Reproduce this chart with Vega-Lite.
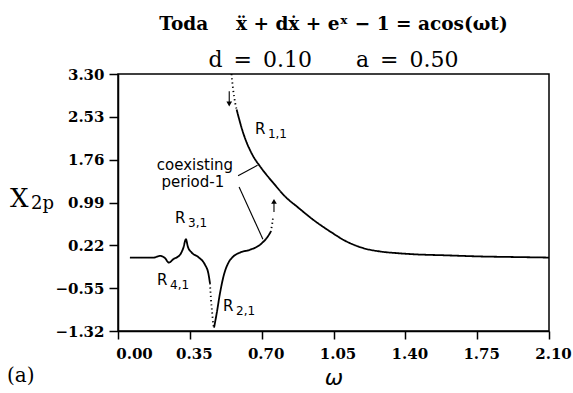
{
  "$schema": "https://vega.github.io/schema/vega-lite/v6.json",
  "width": 431,
  "height": 257,
  "autosize": {"type": "none"},
  "padding": {"left": 118, "top": 74, "right": 24, "bottom": 62},
  "background": "white",
  "config": {
    "view": {"stroke": "black", "strokeWidth": 1.5},
    "axis": {
      "domainColor": "black", "domainWidth": 1.5,
      "tickColor": "black", "tickWidth": 1.5, "tickSize": 8,
      "labelFont": "DejaVu Serif", "labelFontWeight": "bold", "labelFontSize": 15, "labelColor": "black",
      "grid": false
    }
  },
  "title": {
    "text": "Toda\u2003\u2002x\u0308 + d\u1e8b + e\u02e3 \u2212 1 = acos(\u03c9t)",
    "subtitle": "d\u2002=\u20020.10\u2003\u2003a\u2002=\u20020.50",
    "font": "DejaVu Serif", "fontSize": 18.5, "fontWeight": "bold", "color": "black",
    "subtitleFont": "DejaVu Serif", "subtitleFontSize": 22, "subtitleFontWeight": "normal", "subtitleColor": "black",
    "subtitlePadding": 17, "offset": -4, "anchor": "middle"
  },
  "datasets": {
    "curve": [
      {"i": 1, "seg": "A", "kind": "solid", "w": 0.058, "v": 0.00},
      {"i": 2, "seg": "A", "kind": "solid", "w": 0.120, "v": 0.00},
      {"i": 3, "seg": "A", "kind": "solid", "w": 0.172, "v": 0.00},
      {"i": 4, "seg": "A", "kind": "solid", "w": 0.205, "v": 0.03},
      {"i": 5, "seg": "A", "kind": "solid", "w": 0.229, "v": -0.01},
      {"i": 6, "seg": "A", "kind": "solid", "w": 0.248, "v": -0.09},
      {"i": 7, "seg": "A", "kind": "solid", "w": 0.269, "v": -0.03},
      {"i": 8, "seg": "A", "kind": "solid", "w": 0.302, "v": 0.05},
      {"i": 9, "seg": "A", "kind": "solid", "w": 0.318, "v": 0.17},
      {"i": 10, "seg": "A", "kind": "solid", "w": 0.331, "v": 0.33},
      {"i": 11, "seg": "A", "kind": "solid", "w": 0.340, "v": 0.20},
      {"i": 12, "seg": "A", "kind": "solid", "w": 0.359, "v": 0.09},
      {"i": 13, "seg": "A", "kind": "solid", "w": 0.391, "v": 0.01},
      {"i": 14, "seg": "A", "kind": "solid", "w": 0.424, "v": -0.13},
      {"i": 15, "seg": "A", "kind": "solid", "w": 0.440, "v": -0.28},
      {"i": 16, "seg": "A", "kind": "solid", "w": 0.448, "v": -0.46},
      {"i": 17, "seg": "B", "kind": "dotted", "w": 0.448, "v": -0.46},
      {"i": 18, "seg": "B", "kind": "dotted", "w": 0.453, "v": -0.75},
      {"i": 19, "seg": "B", "kind": "dotted", "w": 0.459, "v": -1.00},
      {"i": 20, "seg": "B", "kind": "dotted", "w": 0.464, "v": -1.20},
      {"i": 21, "seg": "B", "kind": "dotted", "w": 0.468, "v": -1.26},
      {"i": 22, "seg": "C", "kind": "solid", "w": 0.468, "v": -1.26},
      {"i": 23, "seg": "C", "kind": "solid", "w": 0.481, "v": -1.00},
      {"i": 24, "seg": "C", "kind": "solid", "w": 0.497, "v": -0.64},
      {"i": 25, "seg": "C", "kind": "solid", "w": 0.516, "v": -0.31},
      {"i": 26, "seg": "C", "kind": "solid", "w": 0.537, "v": -0.10},
      {"i": 27, "seg": "C", "kind": "solid", "w": 0.562, "v": 0.02},
      {"i": 28, "seg": "C", "kind": "solid", "w": 0.594, "v": 0.09},
      {"i": 29, "seg": "C", "kind": "solid", "w": 0.643, "v": 0.14},
      {"i": 30, "seg": "C", "kind": "solid", "w": 0.692, "v": 0.23},
      {"i": 31, "seg": "C", "kind": "solid", "w": 0.724, "v": 0.35},
      {"i": 32, "seg": "C", "kind": "solid", "w": 0.744, "v": 0.46},
      {"i": 33, "seg": "D", "kind": "dotted", "w": 0.744, "v": 0.46},
      {"i": 34, "seg": "D", "kind": "dotted", "w": 0.751, "v": 0.60},
      {"i": 35, "seg": "D", "kind": "dotted", "w": 0.757, "v": 0.76},
      {"i": 36, "seg": "E", "kind": "dotted", "w": 0.553, "v": 3.30},
      {"i": 37, "seg": "E", "kind": "dotted", "w": 0.561, "v": 3.02},
      {"i": 38, "seg": "E", "kind": "dotted", "w": 0.571, "v": 2.78},
      {"i": 39, "seg": "E", "kind": "dotted", "w": 0.578, "v": 2.66},
      {"i": 40, "seg": "F", "kind": "solid", "w": 0.578, "v": 2.66},
      {"i": 41, "seg": "F", "kind": "solid", "w": 0.610, "v": 2.24},
      {"i": 42, "seg": "F", "kind": "solid", "w": 0.659, "v": 1.82},
      {"i": 43, "seg": "F", "kind": "solid", "w": 0.692, "v": 1.64},
      {"i": 44, "seg": "F", "kind": "solid", "w": 0.757, "v": 1.34},
      {"i": 45, "seg": "F", "kind": "solid", "w": 0.822, "v": 1.07},
      {"i": 46, "seg": "F", "kind": "solid", "w": 0.871, "v": 0.92},
      {"i": 47, "seg": "F", "kind": "solid", "w": 0.951, "v": 0.68},
      {"i": 48, "seg": "F", "kind": "solid", "w": 1.033, "v": 0.47},
      {"i": 49, "seg": "F", "kind": "solid", "w": 1.113, "v": 0.29},
      {"i": 50, "seg": "F", "kind": "solid", "w": 1.195, "v": 0.17},
      {"i": 51, "seg": "F", "kind": "solid", "w": 1.276, "v": 0.11},
      {"i": 52, "seg": "F", "kind": "solid", "w": 1.358, "v": 0.08},
      {"i": 53, "seg": "F", "kind": "solid", "w": 1.439, "v": 0.06},
      {"i": 54, "seg": "F", "kind": "solid", "w": 1.601, "v": 0.04},
      {"i": 55, "seg": "F", "kind": "solid", "w": 1.764, "v": 0.02},
      {"i": 56, "seg": "F", "kind": "solid", "w": 1.926, "v": 0.01},
      {"i": 57, "seg": "F", "kind": "solid", "w": 2.100, "v": 0.00}
    ],
    "rules": [
      {"w": 0.585, "v": 1.47, "w2": 0.680, "v2": 1.66},
      {"w": 0.590, "v": 1.27, "w2": 0.706, "v2": 0.33},
      {"w": 0.542, "v": 2.99, "w2": 0.542, "v2": 2.78},
      {"w": 0.760, "v": 0.82, "w2": 0.760, "v2": 1.00}
    ],
    "heads": [
      {"w": 0.542, "v": 2.76, "shape": "triangle-down"},
      {"w": 0.760, "v": 1.01, "shape": "triangle-up"}
    ],
    "rlabels": [
      {"w": 0.667, "v": 2.32, "main": "R", "sub": "1,1"},
      {"w": 0.278, "v": 0.715, "main": "R", "sub": "3,1"},
      {"w": 0.190, "v": -0.40, "main": "R", "sub": "4,1"},
      {"w": 0.512, "v": -0.87, "main": "R", "sub": "2,1"}
    ],
    "notes": [
      {"w": 0.375, "v": 1.67, "text": "coexisting"},
      {"w": 0.365, "v": 1.35, "text": "period-1"}
    ],
    "outer": [
      {"w": -0.526, "v": 0.913, "main": "X", "sub": "2p"}
    ],
    "panel": [
      {"w": -0.541, "v": -2.13, "text": "(a)"}
    ]
  },
  "encoding": {
    "x": {
      "field": "w", "type": "quantitative",
      "scale": {"domain": [0, 2.1], "nice": false, "zero": false},
      "axis": {
        "values": [0, 0.35, 0.7, 1.05, 1.4, 1.75, 2.1], "format": ".2f",
        "labelFlush": false, "labelPadding": 7,
        "labelOffset": {"condition": {"test": "datum.value == 0", "value": 16}, "value": 4},
        "title": "\u03c9", "titleFont": "DejaVu Sans", "titleFontStyle": "italic", "titleFontWeight": "normal",
        "titleFontSize": 22, "titleColor": "black", "titlePadding": 6
      }
    },
    "y": {
      "field": "v", "type": "quantitative",
      "scale": {"domain": [-1.32, 3.3], "nice": false, "zero": false},
      "axis": {
        "values": [-1.32, -0.55, 0.22, 0.99, 1.76, 2.53, 3.3], "format": ".2f",
        "tickSize": 9, "labelPadding": 5, "title": null
      }
    }
  },
  "layer": [
    {
      "data": {"name": "curve"},
      "mark": {"type": "line", "color": "black", "strokeWidth": 1.8, "interpolate": "monotone"},
      "encoding": {
        "detail": {"field": "seg"},
        "order": {"field": "i", "type": "quantitative"},
        "strokeDash": {"field": "kind", "type": "nominal", "scale": {"domain": ["solid", "dotted"], "range": [[1, 0], [1.2, 3]]}, "legend": null}
      }
    },
    {
      "data": {"name": "rules"},
      "mark": {"type": "rule", "color": "black", "strokeWidth": 1.1},
      "encoding": {"x2": {"field": "w2"}, "y2": {"field": "v2"}}
    },
    {
      "data": {"name": "heads"},
      "mark": {"type": "point", "filled": true, "color": "black", "opacity": 1, "size": 32},
      "encoding": {"shape": {"field": "shape", "type": "nominal", "scale": null}}
    },
    {
      "data": {"name": "rlabels"},
      "mark": {"type": "text", "font": "DejaVu Sans", "fontSize": 15, "align": "left", "baseline": "middle", "color": "black"},
      "encoding": {"text": {"field": "main"}}
    },
    {
      "data": {"name": "rlabels"},
      "mark": {"type": "text", "font": "DejaVu Sans", "fontSize": 12, "align": "left", "baseline": "middle", "dx": 13, "dy": 5, "color": "black"},
      "encoding": {"text": {"field": "sub"}}
    },
    {
      "data": {"name": "notes"},
      "mark": {"type": "text", "font": "DejaVu Sans", "fontSize": 15, "align": "center", "baseline": "middle", "color": "black"},
      "encoding": {"text": {"field": "text"}}
    },
    {
      "data": {"name": "outer"},
      "mark": {"type": "text", "font": "DejaVu Serif", "fontSize": 26, "align": "left", "baseline": "alphabetic", "color": "black"},
      "encoding": {"text": {"field": "main"}}
    },
    {
      "data": {"name": "outer"},
      "mark": {"type": "text", "font": "DejaVu Serif", "fontSize": 18, "align": "left", "baseline": "alphabetic", "dx": 21, "dy": 2, "color": "black"},
      "encoding": {"text": {"field": "sub"}}
    },
    {
      "data": {"name": "panel"},
      "mark": {"type": "text", "font": "DejaVu Serif", "fontSize": 20, "align": "left", "baseline": "middle", "color": "black"},
      "encoding": {"text": {"field": "text"}}
    }
  ]
}
